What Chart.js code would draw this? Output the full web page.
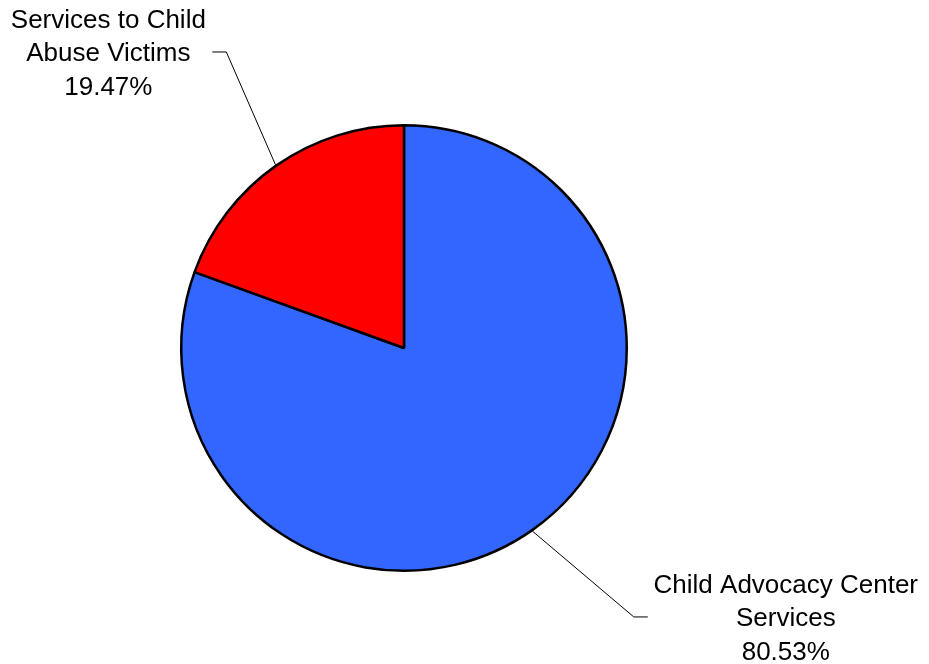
<!DOCTYPE html>
<html>
<head>
<meta charset="utf-8">
<script src="https://cdn.jsdelivr.net/npm/chart.js@4/dist/chart.umd.min.js"></script>
<style>
html,body{margin:0;padding:0;background:#fff;}
#wrap{width:929px;height:664px;position:relative;}
</style>
</head>
<body>
<div id="wrap"><canvas id="c" width="929" height="664"></canvas></div>
<script>
const categories = ["Child Advocacy Center Services", "Services to Child Abuse Victims"];
const labelLines = [["Child Advocacy Center", "Services"], ["Services to Child", "Abuse Victims"]];
const values = [80.53, 19.47];
const colors = ["#3366FF", "#FF0000"];

// label placement (relative to pie radius) and text offsets
const labelPlacement = [
  {ex: 1.027, ey: 1.202, dir: 1, textDx: 152},
  {ex: -0.794, ey: -1.323, dir: -1, textDx: -118}
];

const leaderPlugin = {
  id: 'leaders',
  afterDatasetsDraw(chart) {
    const ctx = chart.ctx;
    const meta = chart.getDatasetMeta(0);
    meta.data.forEach((arc, i) => {
      const p = arc.getProps(['x','y','startAngle','endAngle','outerRadius'], true);
      const mid = (p.startAngle + p.endAngle) / 2;
      const R = p.outerRadius + 1;
      const sx = p.x + Math.cos(mid) * R;
      const sy = p.y + Math.sin(mid) * R;
      const pl = labelPlacement[i];
      const exX = p.x + pl.ex * R;
      const exY = p.y + pl.ey * R;
      ctx.save();
      ctx.strokeStyle = '#000';
      ctx.lineWidth = 1;
      ctx.beginPath();
      ctx.moveTo(sx, sy);
      ctx.lineTo(exX, exY);
      ctx.lineTo(exX + pl.dir * 14, exY);
      ctx.stroke();
      ctx.fillStyle = '#000';
      ctx.font = '26px "Liberation Sans", Arial, sans-serif';
      ctx.textAlign = 'center';
      ctx.textBaseline = 'middle';
      const lines = labelLines[i].concat([values[i].toFixed(2) + '%']);
      const tx = exX + pl.textDx;
      const lh = 33.5;
      lines.forEach((t, k) => {
        ctx.fillText(t, tx, exY + 2 + (k - 1) * lh);
      });
      ctx.restore();
    });
  }
};

new Chart(document.getElementById('c'), {
  type: 'pie',
  data: {
    labels: categories,
    datasets: [{
      data: values,
      backgroundColor: colors,
      borderColor: '#000',
      borderWidth: 2.5,
      hoverOffset: 0
    }]
  },
  options: {
    responsive: false,
    animation: false,
    layout: {padding: {left: 180, right: 301, top: 124, bottom: 92}},
    plugins: {
      legend: {display: false},
      tooltip: {enabled: false}
    }
  },
  plugins: [leaderPlugin]
});
</script>
</body>
</html>
